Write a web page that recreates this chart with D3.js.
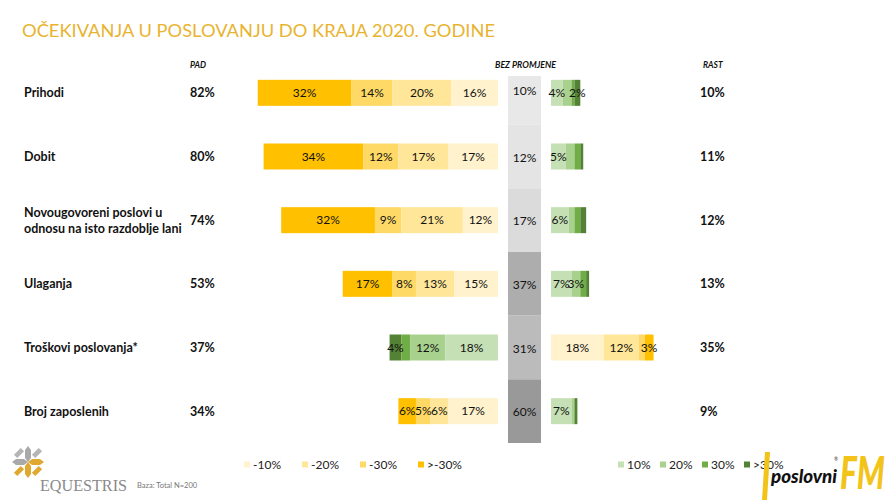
<!DOCTYPE html>
<meta charset="utf-8">
<style>
body { margin: 0; background: #fff; }
text { font-family: Lato, "Open Sans", sans-serif; }
.lbl { font-weight: bold; font-size: 12.5px; fill: #111; }
.val { font-size: 12px; fill: #111; }
.hdr { font-weight: bold; font-style: italic; font-size: 8.5px; fill: #111; }
.leg { font-size: 12px; fill: #222; }
</style>
<svg width="890" height="501"></svg>
<script src="https://cdn.jsdelivr.net/npm/d3@7"></script>
<script>

var categories = ["Prihodi", "Dobit", "Novougovoreni poslovi u|odnosu na isto razdoblje lani",
                  "Ulaganja", "Troškovi poslovanja*", "Broj zaposlenih"];
var padTotal  = [82, 80, 74, 53, 37, 34];
var rastTotal = [10, 11, 12, 13, 35, 9];
var noChange  = [10, 12, 17, 37, 31, 60];

// PAD segments, left to right: >-30%, -30%, -20%, -10%
var padOver30 = [32, 34, 32, 17, 4, 6];
var pad30     = [14, 12, 9, 8, 3, 5];
var pad20     = [20, 17, 21, 13, 12, 6];
var pad10     = [16, 17, 12, 15, 18, 17];

// RAST segments, left to right: 10%, 20%, 30%, >30%
var rast10     = [4, 5, 6, 7, 18, 7];
var rast20     = [3, 3, 2, 3, 12, 1];
var rast30     = [1, 2, 2, 2, 2, 0];
var rastOver30 = [2, 1, 2, 1, 3, 1];

// which segments carry a data label
var padLabelled  = [[0,1,2,3],[0,1,2,3],[0,1,2,3],[0,1,2,3],[0,2,3],[0,1,2,3]];
var rastLabelled = [[0,3],[0],[0],[0,1],[0,1,3],[0]];

var padLegend  = ["-10%", "-20%", "-30%", ">-30%"];
var rastLegend = ["10%", "20%", "30%", ">30%"];

var yellows = ["#FFF2CC", "#FFE699", "#FFD966", "#FFC000"];   // light -> dark
var greens  = ["#C5E0B4", "#A9D18E", "#70AD47", "#548235"];
var costRow = 4;   // costs: falling is good (green), rising is bad (yellow)

var svg = d3.select("svg");

var x = d3.scaleLinear().domain([0, 100]).range([0, 293]);
var y = d3.scaleBand().domain(d3.range(categories.length)).range([61, 443]);
var padEnd = 498, rastStart = 551, colX = 508, colW = 33, colTop = 76, barH = 26;

var grey = d3.scaleLinear().domain([10, 17, 37, 60])
    .range(["#e8e8e8", "#dbdbdb", "#adadad", "#999999"]);

// title
svg.append("text")
    .attr("x", 22).attr("y", 37)
    .attr("textLength", 473).attr("lengthAdjust", "spacingAndGlyphs")
    .style("font-size", "18px").style("fill", "#e8b430")
    .text("OČEKIVANJA U POSLOVANJU DO KRAJA 2020. GODINE");

svg.append("text").attr("class", "hdr").attr("x", 190).attr("y", 68).text("PAD");
svg.append("text").attr("class", "hdr").attr("x", 495).attr("y", 68)
    .attr("textLength", 61).attr("lengthAdjust", "spacingAndGlyphs").text("BEZ PROMJENE");
svg.append("text").attr("class", "hdr").attr("x", 703).attr("y", 68).text("RAST");

var rows = categories.map(function(c, i) {
  var left = [padOver30[i], pad30[i], pad20[i], pad10[i]];
  var right = [rast10[i], rast20[i], rast30[i], rastOver30[i]];
  var cost = i === costRow;
  var x0 = padEnd - x(d3.sum(left));
  var segs = [];
  left.forEach(function(v, k) {
    segs.push({v: v, x: x0, w: x(v), c: cost ? greens[3 - k] : yellows[3 - k],
               show: padLabelled[i].indexOf(k) >= 0});
    x0 += x(v);
  });
  var x1 = rastStart;
  right.forEach(function(v, k) {
    segs.push({v: v, x: x1, w: x(v), c: cost ? yellows[k] : greens[k],
               show: rastLabelled[i].indexOf(k) >= 0});
    x1 += x(v);
  });
  return {i: i, name: c, segs: segs};
});

// no-change column
svg.selectAll(".nc").data(noChange).enter().append("rect")
    .attr("x", colX)
    .attr("y", function(d, i) { return Math.max(y(i), colTop); })
    .attr("width", colW)
    .attr("height", function(d, i) { return y(i) + y.bandwidth() - Math.max(y(i), colTop); })
    .attr("fill", function(d) { return grey(d); });

svg.selectAll(".ncl").data(noChange).enter().append("text")
    .attr("class", "val")
    .attr("x", colX + colW / 2)
    .attr("y", function(d, i) { return y(i) + y.bandwidth() / 2 + (i === 0 ? -2 : 1); })
    .attr("dy", "0.35em").attr("text-anchor", "middle")
    .text(function(d) { return d + "%"; });

var row = svg.selectAll(".row").data(rows).enter().append("g")
    .attr("transform", function(d) { return "translate(0," + (y(d.i) + y.bandwidth() / 2) + ")"; });

row.selectAll("rect").data(function(d) { return d.segs; }).enter().append("rect")
    .attr("x", function(d) { return d.x; })
    .attr("y", -barH / 2)
    .attr("width", function(d) { return d.w; })
    .attr("height", barH)
    .attr("fill", function(d) { return d.c; });

row.selectAll(".seg").data(function(d) { return d.segs.filter(function(s) { return s.show; }); })
  .enter().append("text")
    .attr("class", "val")
    .attr("x", function(d) { return d.x + d.w / 2; })
    .attr("dy", "0.35em").attr("text-anchor", "middle")
    .text(function(d) { return d.v + "%"; });

row.each(function(d) {
  var g = d3.select(this);
  var lines = d.name.split("|");
  lines.forEach(function(t, k) {
    g.append("text").attr("class", "lbl").attr("x", 24)
        .attr("y", (k - (lines.length - 1) / 2) * 16)
        .attr("dy", "0.35em").text(t);
  });
  g.append("text").attr("class", "lbl").attr("x", 190).attr("dy", "0.35em")
      .text(padTotal[d.i] + "%");
  g.append("text").attr("class", "lbl").attr("x", 700).attr("dy", "0.35em")
      .text(rastTotal[d.i] + "%");
});

// legends
var lx = d3.scalePoint().domain(padLegend).range([244, 418]);
var lg = svg.selectAll(".lg1").data(padLegend).enter().append("g")
    .attr("transform", function(d) { return "translate(" + lx(d) + ",465)"; });
lg.append("rect").attr("x", 0).attr("y", -3.5).attr("width", 6).attr("height", 6)
    .attr("fill", function(d, i) { return yellows[i]; });
lg.append("text").attr("class", "leg").attr("x", 9).attr("dy", "0.35em").text(function(d) { return d; });

var rx = d3.scalePoint().domain(rastLegend).range([618, 744]);
var rg = svg.selectAll(".lg2").data(rastLegend).enter().append("g")
    .attr("transform", function(d) { return "translate(" + rx(d) + ",465)"; });
rg.append("rect").attr("x", 0).attr("y", -3.5).attr("width", 6).attr("height", 6)
    .attr("fill", function(d, i) { return greens[i]; });
rg.append("text").attr("class", "leg").attr("x", 9).attr("dy", "0.35em").text(function(d) { return d; });

// footer
svg.append("text").attr("x", 137).attr("y", 488)
    .style("font-size", "7.5px").style("fill", "#777").text("Baza: Total N=200");

// Equestris logo
var eq = svg.append("g").attr("transform", "translate(28,462)");
var arm = "M0,0 L-3,-4 L-3,-12 L0,-16 L3,-12 L3,-4 Z";
[0, 90, 180, 270].forEach(function(a) {
  eq.append("path").attr("d", arm).attr("transform", "rotate(" + a + ")")
      .attr("fill", a === 0 || a === 270 ? "#a9a9a9" : "#e0a82e");
});
[[-9,-9,"#b5b5b5"],[9,-9,"#b5b5b5"],[-9,9,"#e0a82e"],[9,9,"#e0a82e"]].forEach(function(p) {
  eq.append("path").attr("d", "M-3,-3 L3,-3 L3,3 L-3,3 Z")
      .attr("transform", "translate(" + p[0] + "," + p[1] + ") rotate(45) scale(0.8,1.6)")
      .attr("fill", p[2]);
});
svg.append("text").attr("x", 40).attr("y", 491)
    .attr("textLength", 87).attr("lengthAdjust", "spacingAndGlyphs")
    .style("font-family", "'Liberation Serif', 'DejaVu Serif', serif")
    .style("font-size", "17px").style("fill", "#8a8a8a").text("EQUESTRIS");

// poslovniFM logo
svg.append("path").attr("d", "M765,452 L770,452 L767,500 L762,500 Z").attr("fill", "#f2c318");
svg.append("text").attr("x", 771).attr("y", 483)
    .attr("textLength", 66).attr("lengthAdjust", "spacingAndGlyphs")
    .style("font-size", "19px").style("font-weight", "900").style("font-style", "italic")
    .style("fill", "#111").text("poslovni");
svg.append("text").attr("x", 834).attr("y", 461).style("font-size", "5px").style("fill", "#333").text("®");
svg.append("text").attr("x", 840).attr("y", 489)
    .attr("textLength", 45).attr("lengthAdjust", "spacingAndGlyphs")
    .style("font-size", "46px").style("font-weight", "900").style("font-style", "italic")
    .style("fill", "#f2c318").text("FM");

</script>
